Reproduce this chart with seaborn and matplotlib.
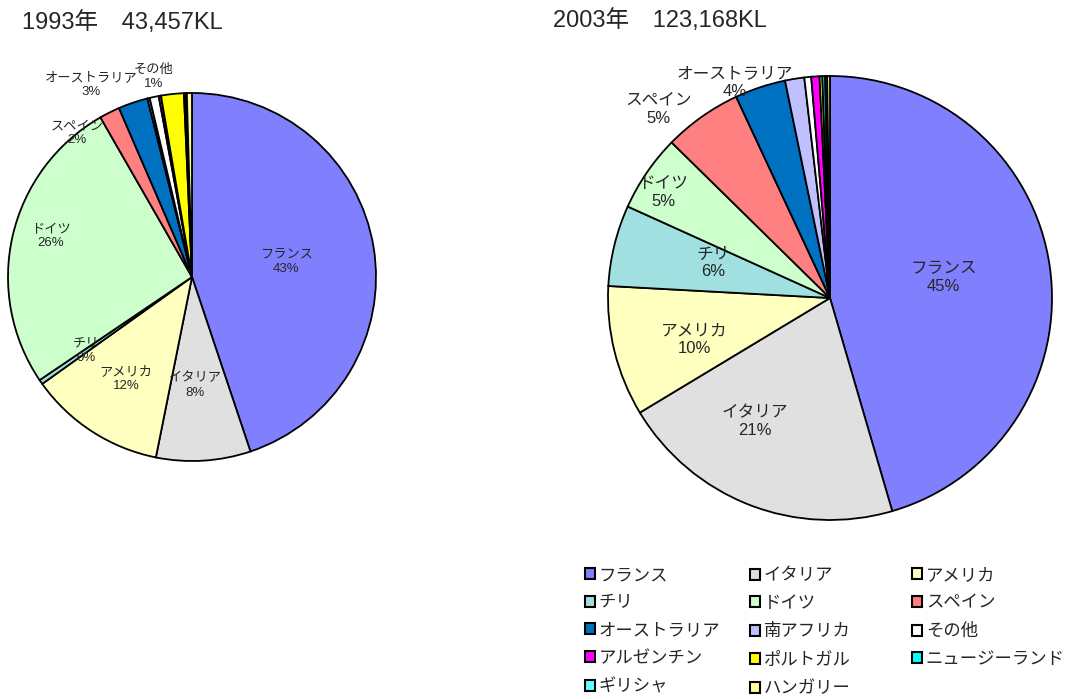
import numpy as np
import matplotlib
matplotlib.use("Agg")
import matplotlib.pyplot as plt
import seaborn as sns
from matplotlib.patches import Patch

# データ（画像から読み取った構成比 %）
countries = ["フランス", "イタリア", "アメリカ", "チリ", "ドイツ", "スペイン",
             "オーストラリア", "南アフリカ", "その他", "アルゼンチン", "ポルトガル",
             "ニュージーランド", "ギリシャ", "ハンガリー"]
colors = ["#8080FF", "#E0E0E0", "#FFFFC0", "#A0E0E0", "#CCFFCC", "#FF8080",
          "#0070C0", "#C0C0FF", "#FFFFFF", "#FF00FF", "#FFFF00",
          "#00FFFF", "#66FFFF", "#FFFF99"]

share_1993 = [44.9, 8.3, 12.0, 0.4, 26.2, 1.8, 2.6, 0.2, 0.8, 0.2, 2.0, 0.15, 0.1, 0.45]
share_2003 = [45.5, 20.9, 9.5, 5.9, 5.6, 5.7, 3.7, 1.4, 0.5, 0.6, 0.2, 0.2, 0.15, 0.2]

pct_1993 = ["43%", "8%", "12%", "0%", "26%", "2%", "3%", None, "1%",
            None, None, None, None, None]
pct_2003 = ["45%", "21%", "10%", "6%", "5%", "5%", "4%", None, None,
            None, None, None, None, None]

title_1993 = "1993年　43,457KL"
title_2003 = "2003年　123,168KL"

sns.set_theme(style="white")
plt.rcParams["font.family"] = ["Liberation Sans", "Noto Sans CJK JP", "DejaVu Sans"]

fig = plt.figure(figsize=(10.7, 6.99), dpi=100)
fig.patch.set_facecolor("white")

# ラベル位置 (半径, 時計回りの角度補正)
pos_1993 = {0: (0.52, 0), 1: (0.59, 2), 2: (0.66, 0), 3: (0.70, 0), 4: (0.80, 3),
            5: (1.0, -12), 6: (1.18, -9), 8: (1.11, 1)}
pos_2003 = {0: (0.52, -2), 1: (0.65, 10), 2: (0.64, -3), 3: (0.55, 3), 4: (0.89, -2),
            5: (1.15, -7), 6: (1.06, -5.5)}


def draw_pie(rect, values, pcts, pos, fs):
    ax = fig.add_axes(rect)
    wedges, _ = ax.pie(values, colors=colors, startangle=90, counterclock=False,
                       wedgeprops=dict(edgecolor="black", linewidth=1.3))
    ax.set_xlim(-1, 1)
    ax.set_ylim(-1, 1)
    ax.set_aspect("equal")
    ax.axis("off")
    for i, w in enumerate(wedges):
        if pcts[i] is None:
            continue
        r, off = pos[i]
        mid = np.deg2rad((w.theta1 + w.theta2) / 2 - off)
        ax.text(r * np.cos(mid), r * np.sin(mid), f"{countries[i]}\n{pcts[i]}",
                ha="center", va="center", fontsize=fs, linespacing=1.25,
                clip_on=False)
    return ax


draw_pie([8 / 1070, 1 - 461 / 699, 368 / 1070, 368 / 699], share_1993, pct_1993, pos_1993, 9.5)
draw_pie([608 / 1070, 1 - 520 / 699, 444 / 1070, 444 / 699], share_2003, pct_2003, pos_2003, 12)

fig.text(22 / 1070, 1 - 23 / 699, title_1993, fontsize=17, va="center", ha="left")
fig.text(553 / 1070, 1 - 21 / 699, title_2003, fontsize=17, va="center", ha="left")

# 凡例（行方向の並びを3列で再現）
handles = [Patch(facecolor=c, edgecolor="black", linewidth=1.5) for c in colors]
col_x = [585, 750, 912]
for k in range(3):
    idx = list(range(k, len(countries), 3))
    leg = fig.legend([handles[i] for i in idx], [countries[i] for i in idx],
                     loc="upper left", bbox_to_anchor=(col_x[k] / 1070, 1 - 568 / 699),
                     frameon=False, fontsize=12.5, handlelength=0.6, handleheight=0.6,
                     handletextpad=0.2, labelspacing=0.72, borderpad=0, borderaxespad=0)

fig.savefig("out.png", dpi=100, facecolor="white")
